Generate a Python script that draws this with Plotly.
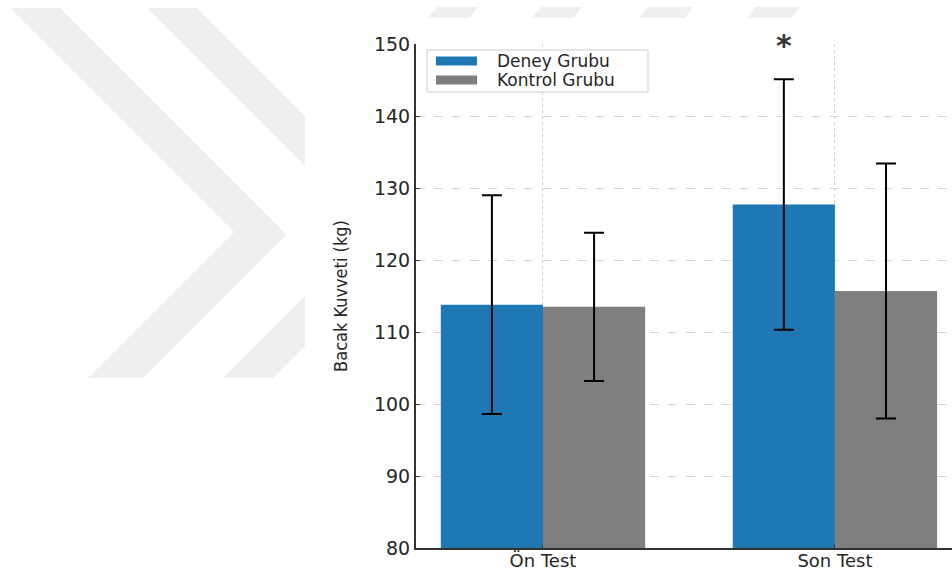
import plotly.graph_objects as go

# ---- data -------------------------------------------------------------
categories = ["Ön Test", "Son Test"]
series_names = ["Deney Grubu", "Kontrol Grubu"]
deney_mean = [113.8, 127.7]
deney_sd = [15.2, 17.4]
kontrol_mean = [113.5, 115.7]
kontrol_sd = [10.3, 17.7]
significant = [False, True]          # deney vs kontrol, marked with "*"
y_ticks = [80, 90, 100, 110, 120, 130, 140, 150]

# ---- styling ----------------------------------------------------------
BLUE = "#1f77b4"
GRAY = "#7f7f7f"
INK = "#262626"
WATERMARK = "#efefef"
BAR_W = 0.35

W, H = 952, 571
ML, MR, MT, MB = 416, 0, 44, 23
PW, PH = W - ML - MR, H - MT - MB


def px_x(px):
    return (px - ML) / PW


def px_y(py):
    return (H - MB - py) / PH


def poly(points):
    pts = [f"{px_x(x):.5f},{px_y(y):.5f}" for x, y in points]
    return "M" + " L".join(pts) + " Z"


fig = go.Figure()
fig.add_trace(go.Bar(
    x=categories, y=deney_mean, name=series_names[0],
    marker=dict(color=BLUE, line=dict(width=0)),
    error_y=dict(type="data", array=deney_sd, color="black", thickness=2, width=10),
    showlegend=False,
))
fig.add_trace(go.Bar(
    x=categories, y=kontrol_mean, name=series_names[1],
    marker=dict(color=GRAY, line=dict(width=0)),
    error_y=dict(type="data", array=kontrol_sd, color="black", thickness=2, width=10),
    showlegend=False,
))

shapes = []
# faint chevron watermark in the page background
wm_polys = [
    [(10, 8), (60, 8), (286.5, 234.5), (143, 378), (88, 378), (234, 232)],
    [(147, 8), (197, 8), (305, 116), (305, 166)],
    [(305, 296), (305, 346), (273, 378), (223, 378)],
    [(437, 7), (478, 7), (470, 18), (428, 18)],
    [(541, 7), (582, 7), (574, 18), (532, 18)],
    [(648, 7), (693, 7), (685, 18), (640, 18)],
    [(755, 7), (800, 7), (792, 18), (747, 18)],
]
for p in wm_polys:
    shapes.append(dict(type="path", xref="paper", yref="paper", path=poly(p),
                       fillcolor=WATERMARK, line=dict(width=0), layer="below"))

# legend box and colour patches
shapes.append(dict(type="rect", xref="paper", yref="paper",
                   x0=px_x(427), x1=px_x(648), y0=px_y(92), y1=px_y(50),
                   fillcolor="rgba(255,255,255,0.85)",
                   line=dict(color="#cccccc", width=1), layer="above"))
legend_rows = [61, 80]
annotations = []
for name, color, cy in zip(series_names, [BLUE, GRAY], legend_rows):
    shapes.append(dict(type="rect", xref="paper", yref="paper",
                       x0=px_x(436), x1=px_x(477), y0=px_y(cy + 4.5), y1=px_y(cy - 4.5),
                       fillcolor=color, line=dict(width=0), layer="above"))
    annotations.append(dict(xref="paper", yref="paper", x=px_x(495), y=px_y(cy),
                            xanchor="left", yanchor="middle", showarrow=False,
                            text=name, font=dict(family="DejaVu Sans", size=17, color=INK)))

# significance marker above the deney error bar
for i, sig in enumerate(significant):
    if sig:
        annotations.append(dict(
            x=i - BAR_W / 2, y=deney_mean[i] + deney_sd[i],
            xref="x", yref="y", text="<b>*</b>", showarrow=False,
            xanchor="center", yanchor="middle", yshift=34,
            font=dict(family="DejaVu Sans", size=30, color="#333333"),
        ))

fig.update_layout(
    width=W, height=H,
    margin=dict(l=ML, r=MR, t=MT, b=MB, pad=0, autoexpand=False),
    paper_bgcolor="white", plot_bgcolor="white",
    barmode="group", bargap=1 - 2 * BAR_W, bargroupgap=0,
    shapes=shapes, annotations=annotations,
    font=dict(family="DejaVu Sans", color=INK),
    showlegend=False,
)
fig.update_xaxes(
    type="category", range=[-0.435, 1.401], automargin=False,
    showgrid=True, gridcolor="#cfcfcf", griddash="dot", gridwidth=1,
    showline=True, linecolor="#333333", linewidth=2,
    ticks="inside", ticklen=3, tickcolor="#333333",
    tickfont=dict(family="DejaVu Sans", size=18, color=INK),
    ticklabelstandoff=-5,
    layer="above traces",
)
fig.update_yaxes(
    range=[80, 150], tickvals=y_ticks, automargin=False,
    showgrid=True, gridcolor="#d6d6d6", griddash="dash", gridwidth=1,
    zeroline=False,
    showline=True, linecolor="#333333", linewidth=2,
    ticks="inside", ticklen=4, tickcolor="#333333",
    tickfont=dict(family="DejaVu Sans", size=19, color=INK),
    title=dict(text="Bacak Kuvveti (kg)", standoff=22,
               font=dict(family="DejaVu Sans Condensed, Roboto, sans-serif", size=18, color=INK)),
    layer="above traces",
)

fig.write_html("out.html")
